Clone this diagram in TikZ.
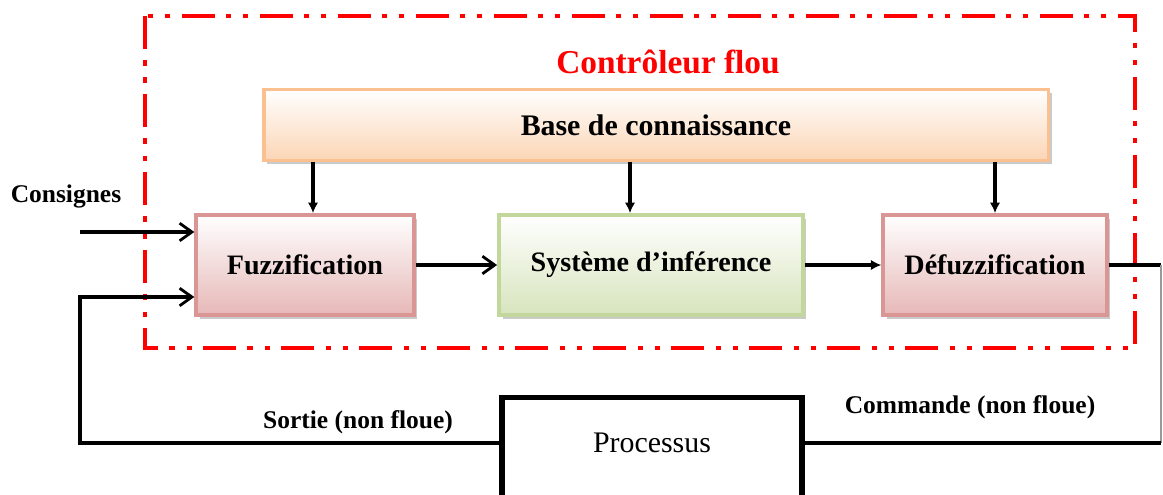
\documentclass[tikz,border=0pt]{standalone}
\usepackage{fontspec}
\setmainfont{Liberation Serif}
\usepackage{tikz}
\usetikzlibrary{arrows.meta,shadows}

\definecolor{rosebord}{RGB}{217,150,148}
\definecolor{rosefond}{RGB}{230,184,183}
\definecolor{vertbord}{RGB}{195,214,155}
\definecolor{vertfond}{RGB}{215,228,189}
\definecolor{orangebord}{RGB}{250,192,144}
\definecolor{orangefond}{RGB}{251,213,181}

\tikzset{
  bloc/.style={draw, line width=2.2pt, minimum height=2.0cm, align=center,
    font=\bfseries\fontsize{16}{19}\selectfont,
    drop shadow={shadow xshift=2pt, shadow yshift=-2pt, opacity=0.35, fill=black!60}},
  blocrose/.style={bloc, draw=rosebord, top color=white, bottom color=rosefond},
  blocvert/.style={bloc, draw=vertbord, top color=white, bottom color=vertfond},
  lbl/.style={font=\bfseries\fontsize{14.5}{17}\selectfont},
  fleche/.style={line width=2.2pt, -{Straight Barb[length=7pt,width=10pt,line width=1.6pt]}},
  flechep/.style={line width=1.8pt, -{Latex[length=6pt,width=6pt]}},
  liaison/.style={line width=2.2pt},
}

\begin{document}
\begin{tikzpicture}[x=0.02cm,y=-0.02cm]
  \useasboundingbox (0,0) rectangle (1163,494);
  \clip (0,0) rectangle (1163,494);

  % cadre du controleur
  \draw[red, line width=2.8pt, dash pattern=on 18.7pt off 6.6pt on 3.1pt off 6.6pt on 3.1pt off 6.3pt]
    (145,16) rectangle (1135,348);
  \node[red, font=\bfseries\fontsize{19}{22}\selectfont] (titre) at (668,62) {Contrôleur flou};

  % blocs
  \node[bloc, draw=orangebord, top color=white, bottom color=orangefond,
        minimum width=15.7cm, minimum height=1.42cm,
        font=\bfseries\fontsize{17}{20}\selectfont] (base) at (656,125) {Base de connaissance};
  \node[blocrose, minimum width=4.35cm] (fuz) at (305,265) {Fuzzification};
  \node[blocvert, minimum width=6.08cm] (inf) at (651,265) {Système d’inférence};
  \node[blocrose, minimum width=4.47cm] (dfz) at (995,265) {Défuzzification};
  \node[draw, line width=3pt, minimum width=6.0cm, minimum height=2.3cm] (proc) at (652,455) {};
  \node[font=\fontsize{17}{20}\selectfont] (proctxt) at (652,443) {Processus};

  % textes
  \node[lbl] (consignes) at (66,196) {Consignes};
  \node[lbl] (sortie) at (358,422) {Sortie (non floue)};
  \node[lbl] (commande) at (970,407) {Commande (non floue)};

  % base vers les blocs
  \draw[flechep] ([xshift=0.16cm]base.south -| fuz.north) -- ([xshift=0.16cm]fuz.north);
  \draw[flechep] ([xshift=-0.42cm]base.south -| inf.north) -- ([xshift=-0.42cm]inf.north);
  \draw[flechep] (base.south -| dfz.north) -- (dfz.north);

  % chaine directe
  \coordinate (entree) at (80,232);
  \draw[fleche] (entree) -- (entree -| fuz.west);
  \draw[fleche] (fuz.east) -- (inf.west);
  \draw[flechep, line width=2.2pt] (inf.east) -- (dfz.west);

  % vers le processus
  \coordinate (coin) at (1161,265);
  \draw[liaison] (dfz.east) -- (coin);
  \draw[black!40, line width=0.6pt] (coin) -- (coin |- proctxt);
  \draw[liaison] (coin |- proctxt) -- (proc.east |- proctxt);

  % retour
  \coordinate (retour) at (80,297);
  \draw[fleche] (proc.west |- proctxt) -| (retour) -- (retour -| fuz.west);
\end{tikzpicture}
\end{document}
